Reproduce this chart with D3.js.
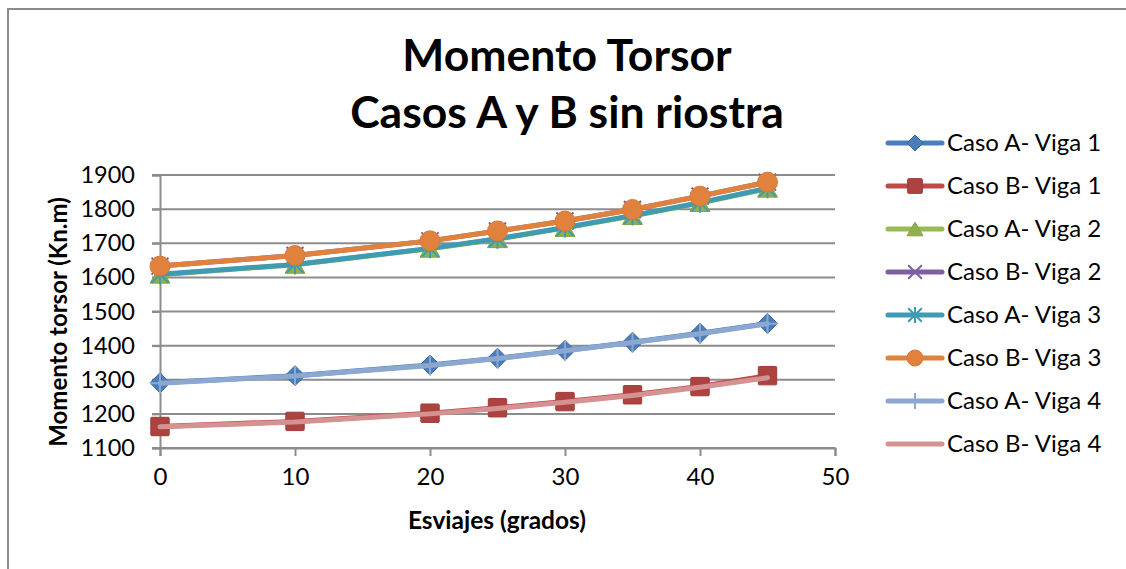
<!DOCTYPE html>
<html>
<head>
<meta charset="utf-8">
<script src="https://cdn.jsdelivr.net/npm/d3@7"></script>
<style>
  html, body { margin: 0; padding: 0; background: #fff; }
  svg { display: block; font-family: Lato, "Open Sans", sans-serif; }
</style>
</head>
<body>
<svg id="chart" width="1126" height="569"></svg>
<script>
// Skew angle (degrees) and torsional moment (kN·m) per beam and case
const skew = [0, 10, 20, 25, 30, 35, 40, 45];
const casoA_viga1 = [1291, 1312, 1343, 1363, 1386, 1410, 1436, 1465];
const casoB_viga1 = [1163, 1178, 1202, 1218, 1236, 1256, 1280, 1312];
const casoA_viga2 = [1608, 1637, 1684, 1712, 1745, 1780, 1818, 1860];
const casoB_viga2 = [1633, 1664, 1707, 1736, 1765, 1799, 1838, 1879];
const casoA_viga3 = [1609, 1638, 1685, 1713, 1746, 1781, 1819, 1861];
const casoB_viga3 = [1633, 1664, 1707, 1736, 1765, 1799, 1838, 1879];
const casoA_viga4 = [1290, 1311, 1342, 1362, 1385, 1409, 1435, 1464];
const casoB_viga4 = [1162, 1176, 1200, 1216, 1234, 1254, 1278, 1306];

const seriesNames = [
  "Caso A- Viga 1", "Caso B- Viga 1", "Caso A- Viga 2", "Caso B- Viga 2",
  "Caso A- Viga 3", "Caso B- Viga 3", "Caso A- Viga 4", "Caso B- Viga 4"
];
const seriesValues = [
  casoA_viga1, casoB_viga1, casoA_viga2, casoB_viga2,
  casoA_viga3, casoB_viga3, casoA_viga4, casoB_viga4
];
const xTicks = [0, 10, 20, 30, 40, 50];
const yTicks = [1100, 1200, 1300, 1400, 1500, 1600, 1700, 1800, 1900];

const titleLines = ["Momento Torsor", "Casos A y B sin riostra"];
const xTitle = "Esviajes (grados)";
const yTitle = "Momento torsor (Kn.m)";

// Visual style per series: line colour, marker shape and colours
const styles = [
  { line: "#4A7EBB", marker: "diamond",  fill: "#4A7EBB", stroke: "#3A67A0" },
  { line: "#BE4B48", marker: "square",   fill: "#AD4340", stroke: "#9E3B38" },
  { line: "#98B954", marker: "triangle", fill: "#8FB04D", stroke: "#84A545" },
  { line: "#7D60A0", marker: "x",        fill: "none",    stroke: "#7D60A0" },
  { line: "#3F9AB4", marker: "star",     fill: "none",    stroke: "#3F9AB4" },
  { line: "#E0823D", marker: "circle",   fill: "#E0823D", stroke: "#D97A36" },
  { line: "#8DA8D0", marker: "plus",     fill: "none",    stroke: "#8DA8D0" },
  { line: "#D49292", marker: "none",     fill: "none",    stroke: "none" }
];

const svg = d3.select("#chart");

// Outer chart border (left and top edges visible)
svg.append("rect")
  .attr("x", 8).attr("y", 9)
  .attr("width", 1200).attr("height", 700)
  .attr("fill", "none")
  .attr("stroke", "#8a8a8a")
  .attr("stroke-width", 2);

const x = d3.scaleLinear().domain([0, 50]).range([160, 835]);
const y = d3.scaleLinear().domain([1100, 1900]).range([448, 175]);

const gridColor = "#8c8c8c";

// Horizontal gridlines
svg.append("g")
  .selectAll("line")
  .data(yTicks)
  .join("line")
  .attr("x1", x(0) - 8).attr("x2", x(50))
  .attr("y1", d => y(d)).attr("y2", d => y(d))
  .attr("stroke", gridColor)
  .attr("stroke-width", 2);

// Y axis
const yAxis = svg.append("g")
  .attr("transform", `translate(${x(0)},0)`)
  .call(d3.axisLeft(y).tickValues(yTicks).tickSize(8).tickPadding(17).tickFormat(d3.format("d")));
yAxis.select(".domain").attr("stroke", gridColor).attr("stroke-width", 2);
yAxis.selectAll(".tick line").attr("stroke", gridColor).attr("stroke-width", 2);
yAxis.selectAll(".tick text")
  .attr("font-size", 23.5).attr("fill", "#000")
  .attr("font-family", "Lato, sans-serif");

// X axis
const xAxis = svg.append("g")
  .attr("transform", `translate(0,${y(1100)})`)
  .call(d3.axisBottom(x).tickValues(xTicks).tickSize(8).tickPadding(12).tickFormat(d3.format("d")));
xAxis.select(".domain").attr("stroke", gridColor).attr("stroke-width", 2);
xAxis.selectAll(".tick line").attr("stroke", gridColor).attr("stroke-width", 2);
xAxis.selectAll(".tick text")
  .attr("font-size", 24).attr("fill", "#000")
  .attr("font-family", "Lato, sans-serif");

// Marker drawing helper
function drawMarker(g, type, cx, cy, st, size) {
  const s = size;
  if (type === "diamond") {
    g.append("path")
      .attr("d", `M${cx},${cy - s}L${cx + s},${cy}L${cx},${cy + s}L${cx - s},${cy}Z`)
      .attr("fill", st.fill).attr("stroke", st.stroke).attr("stroke-width", 1);
  } else if (type === "square") {
    const h = s * 0.92;
    g.append("rect")
      .attr("x", cx - h).attr("y", cy - h).attr("width", 2 * h).attr("height", 2 * h)
      .attr("rx", 1)
      .attr("fill", st.fill).attr("stroke", st.stroke).attr("stroke-width", 1);
  } else if (type === "triangle") {
    const h = s * 0.85;
    g.append("path")
      .attr("d", `M${cx},${cy - h}L${cx + s},${cy + h}L${cx - s},${cy + h}Z`)
      .attr("fill", st.fill).attr("stroke", st.stroke).attr("stroke-width", 1);
  } else if (type === "x") {
    const h = s * 0.85;
    g.append("path")
      .attr("d", `M${cx - h},${cy - h}L${cx + h},${cy + h}M${cx - h},${cy + h}L${cx + h},${cy - h}`)
      .attr("stroke", st.stroke).attr("stroke-width", 2);
  } else if (type === "star") {
    const h = s * 0.85;
    g.append("path")
      .attr("d", `M${cx - h},${cy - h}L${cx + h},${cy + h}M${cx - h},${cy + h}L${cx + h},${cy - h}M${cx},${cy - s}L${cx},${cy + s}`)
      .attr("stroke", st.stroke).attr("stroke-width", 2);
  } else if (type === "circle") {
    g.append("circle")
      .attr("cx", cx).attr("cy", cy).attr("r", s)
      .attr("fill", st.fill).attr("stroke", st.stroke).attr("stroke-width", 1);
  } else if (type === "plus") {
    g.append("path")
      .attr("d", `M${cx - s},${cy}L${cx + s},${cy}M${cx},${cy - s}L${cx},${cy + s}`)
      .attr("stroke", st.stroke).attr("stroke-width", 2);
  }
}

// Series lines and markers, drawn in order so later series sit on top
const line = d3.line().x(d => x(d[0])).y(d => y(d[1]));
seriesValues.forEach((vals, i) => {
  const st = styles[i];
  const pts = skew.map((s, j) => [s, vals[j]]);
  const g = svg.append("g").attr("class", "series");
  g.append("path")
    .datum(pts)
    .attr("d", line)
    .attr("fill", "none")
    .attr("stroke", st.line)
    .attr("stroke-width", 5)
    .attr("stroke-linejoin", "round")
    .attr("stroke-linecap", "round");
  pts.forEach(p => drawMarker(g, st.marker, x(p[0]), y(p[1]), st, 10));
});

// Title
svg.append("g")
  .selectAll("text")
  .data(titleLines)
  .join("text")
  .attr("x", 567)
  .attr("y", (d, i) => 71 + i * 57)
  .attr("text-anchor", "middle")
  .attr("font-size", 44.5)
  .attr("font-weight", "bold")
  .attr("fill", "#000")
  .text(d => d);

// Axis titles
svg.append("text")
  .attr("x", 497).attr("y", 529)
  .attr("text-anchor", "middle")
  .attr("font-size", 24.5)
  .attr("font-weight", "bold")
  .attr("fill", "#000")
  .text(xTitle);

svg.append("text")
  .attr("transform", "translate(67,322) rotate(-90)")
  .attr("text-anchor", "middle")
  .attr("font-size", 24)
  .attr("font-weight", "bold")
  .attr("fill", "#000")
  .text(yTitle);

// Legend
const legend = svg.append("g");
seriesNames.forEach((name, i) => {
  const st = styles[i];
  const ly = 143 + i * 43;
  const item = legend.append("g");
  item.append("line")
    .attr("x1", 888).attr("x2", 942)
    .attr("y1", ly).attr("y2", ly)
    .attr("stroke", st.line)
    .attr("stroke-width", 5)
    .attr("stroke-linecap", "round");
  drawMarker(item, st.marker, 915, ly, st, 8);
  item.append("text")
    .attr("x", 947).attr("y", ly)
    .attr("dy", "0.35em")
    .attr("font-size", 24)
    .attr("fill", "#000")
    .text(name);
});
</script>
</body>
</html>
